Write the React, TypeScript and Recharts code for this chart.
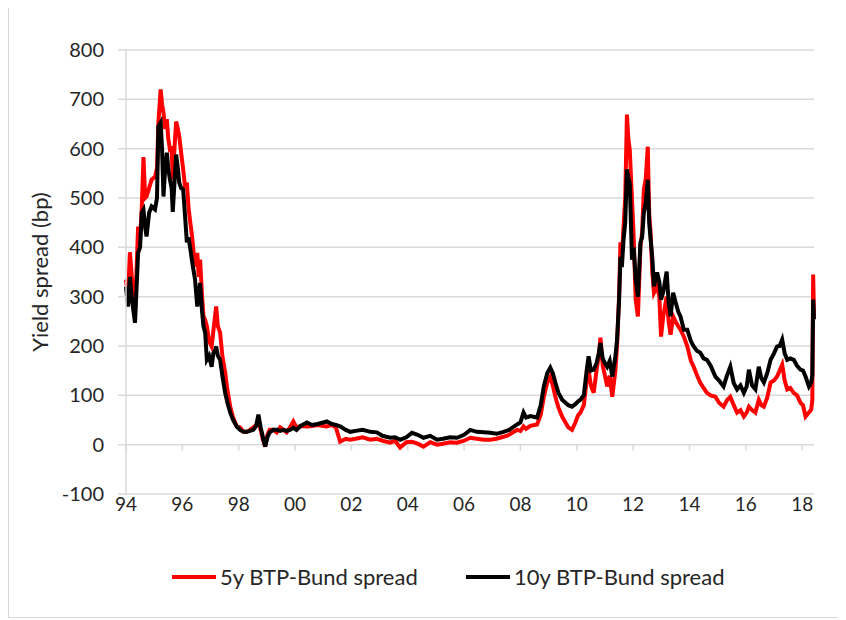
import {
    CartesianGrid,
    Legend,
    Line,
    LineChart,
    ReferenceLine,
    XAxis,
    YAxis,
} from "recharts";

// decimal year of each observation
const dates = [
    1994.0, 1994.07, 1994.14, 1994.22, 1994.32, 1994.43, 1994.5, 1994.56, 1994.62, 1994.68,
    1994.73, 1994.82, 1994.91, 1995.03, 1995.1, 1995.15, 1995.23, 1995.28, 1995.33, 1995.39,
    1995.45, 1995.5, 1995.56, 1995.62, 1995.66, 1995.72, 1995.78, 1995.84, 1995.89, 1995.96,
    1996.03, 1996.1, 1996.16, 1996.22, 1996.27, 1996.35, 1996.45, 1996.53, 1996.58, 1996.63,
    1996.7, 1996.75, 1996.81, 1996.87, 1996.95, 1997.04, 1997.1, 1997.16, 1997.2, 1997.26,
    1997.34, 1997.42, 1997.52, 1997.6, 1997.7, 1997.8, 1997.93, 1998.05, 1998.17, 1998.29,
    1998.4, 1998.52, 1998.62, 1998.7, 1998.78, 1998.86, 1998.94, 1999.02, 1999.1, 1999.23,
    1999.35, 1999.47, 1999.59, 1999.7, 1999.82, 1999.94, 2000.05, 2000.2, 2000.42, 2000.6,
    2000.8, 2001.0, 2001.13, 2001.3, 2001.45, 2001.6, 2001.8, 2001.96, 2002.15, 2002.4,
    2002.67, 2002.9, 2003.1, 2003.38, 2003.55, 2003.73, 2003.95, 2004.15, 2004.35, 2004.56,
    2004.8, 2005.04, 2005.25, 2005.5, 2005.75, 2006.0, 2006.22, 2006.45, 2006.7, 2006.93,
    2007.15, 2007.4, 2007.6, 2007.88, 2008.0, 2008.11, 2008.2, 2008.35, 2008.59, 2008.72,
    2008.83, 2008.95, 2009.06, 2009.15, 2009.24, 2009.35, 2009.48, 2009.6, 2009.7, 2009.83,
    2009.95, 2010.05, 2010.13, 2010.25, 2010.35, 2010.42, 2010.5, 2010.6, 2010.7, 2010.78,
    2010.84, 2010.92, 2011.0, 2011.08, 2011.17, 2011.26, 2011.37, 2011.43, 2011.5, 2011.55,
    2011.6, 2011.66, 2011.72, 2011.78, 2011.83, 2011.88, 2011.96, 2012.02, 2012.09, 2012.17,
    2012.26, 2012.32, 2012.38, 2012.45, 2012.52, 2012.57, 2012.62, 2012.68, 2012.74, 2012.85,
    2012.93, 2012.99, 2013.07, 2013.19, 2013.26, 2013.33, 2013.42, 2013.5, 2013.6, 2013.68,
    2013.8, 2013.92, 2014.05, 2014.15, 2014.27, 2014.38, 2014.5, 2014.62, 2014.75, 2014.92,
    2015.05, 2015.21, 2015.33, 2015.45, 2015.57, 2015.69, 2015.81, 2015.93, 2016.03, 2016.11,
    2016.22, 2016.34, 2016.46, 2016.55, 2016.64, 2016.76, 2016.88, 2017.0, 2017.11, 2017.2,
    2017.29, 2017.38, 2017.47, 2017.58, 2017.7, 2017.82, 2017.94, 2018.03, 2018.12, 2018.24,
    2018.32, 2018.36, 2018.39, 2018.42,
];

// 5y BTP-Bund spread (bp)
const spread5y = [
    335, 300, 390, 330, 268, 442, 420, 480, 583, 500,
    503, 520, 537, 543, 560, 653, 720, 690, 673, 640,
    660, 620, 598, 600, 537, 600, 655, 640, 625, 590,
    558, 520, 531, 480, 456, 420, 361, 389, 340, 375,
    300, 260, 253, 240, 210, 199, 230, 260, 280, 240,
    227, 180, 146, 110, 77, 55, 37, 35, 26, 26,
    30, 35, 40, 45, 30, 10, -4, 20, 30, 30,
    25, 35, 30, 25, 35, 47, 35, 38, 37, 38,
    40, 38, 37, 40, 35, 6, 12, 10, 12, 15,
    10, 12, 8, 4, 8, -6, 5, 6, 2, -4,
    5, 0, 2, 5, 4, 8, 14, 12, 10, 10,
    12, 16, 20, 30, 28, 37, 32, 38, 41, 60,
    97, 125, 138, 120, 97, 75, 57, 45, 35, 30,
    45, 60, 65, 80, 130, 152, 120, 105, 150, 180,
    217, 160, 140, 118, 140, 97, 150, 200, 300, 410,
    380, 442, 500, 669, 620, 598, 497, 420, 294, 260,
    402, 430, 517, 540, 604, 470, 430, 350, 308, 321,
    300, 219, 260, 300, 250, 223, 260, 250, 240, 233,
    219, 200, 170, 158, 140, 126, 115, 105, 100, 97,
    85, 77, 90, 97, 80, 65, 70, 57, 65, 77,
    70, 65, 91, 80, 77, 95, 126, 130, 138, 150,
    162, 130, 112, 115, 105, 100, 85, 80, 57, 65,
    71, 90, 345, 260,
];

// 10y BTP-Bund spread (bp)
const spread10y = [
    320, 280, 340, 290, 247, 389, 400, 470, 476, 440,
    422, 470, 483, 477, 500, 645, 653, 600, 503, 560,
    592, 560, 537, 520, 472, 530, 588, 560, 531, 520,
    517, 460, 410, 420, 402, 370, 335, 280, 300, 328,
    270, 240, 227, 172, 180, 158, 185, 190, 199, 180,
    172, 140, 105, 85, 65, 50, 37, 30, 26, 26,
    28, 30, 38, 61, 35, 15, -4, 15, 25, 30,
    30, 28, 30, 28, 30, 34, 30, 38, 45, 40,
    42, 45, 47, 42, 40, 37, 30, 26, 28, 30,
    26, 25, 18, 14, 15, 10, 15, 24, 20, 14,
    18, 10, 12, 15, 14, 20, 30, 26, 25, 24,
    22, 26, 30, 41, 45, 65, 55, 58, 55, 80,
    118, 145, 156, 145, 126, 105, 91, 85, 80, 77,
    82, 88, 91, 100, 150, 179, 150, 152, 165, 185,
    206, 175, 165, 158, 170, 138, 179, 213, 290, 381,
    360, 416, 450, 558, 540, 531, 375, 400, 335, 300,
    410, 420, 470, 490, 537, 450, 416, 380, 321, 349,
    330, 294, 310, 351, 290, 260, 308, 290, 270, 260,
    233, 233, 210, 199, 190, 187, 175, 172, 160, 138,
    130, 118, 140, 158, 125, 112, 120, 105, 118, 152,
    120, 112, 158, 135, 126, 145, 172, 185, 199, 200,
    213, 185, 172, 175, 172, 160, 152, 150, 138, 118,
    126, 140, 294, 254,
];

const yearTicks = [1994, 1996, 1998, 2000, 2002, 2004, 2006, 2008, 2010, 2012, 2014, 2016, 2018];
const spreadTicks = [-100, 0, 100, 200, 300, 400, 500, 600, 700, 800];

const seriesNames = ["5y BTP-Bund spread", "10y BTP-Bund spread"];
const seriesColors = ["#ff0000", "#000000"];

const chartData = dates.map((d, i) => ({
    date: d,
    y5: spread5y[i],
    y10: spread10y[i],
}));

const FONT = "Lato, 'Open Sans', sans-serif";
const TEXT = "#262626";
const GRID = "#d9d9d9";

const SpreadLegend = () => (
    <div style={{ display: "flex", fontFamily: FONT, fontSize: 22, color: TEXT, paddingLeft: 163 }}>
        {seriesNames.map((name, i) => (
            <div key={name} style={{ display: "flex", alignItems: "center", width: i === 0 ? 294 : "auto" }}>
                <span style={{ display: "inline-block", width: 44, height: 4, background: seriesColors[i], marginRight: 4 }} />
                <span>{name}</span>
            </div>
        ))}
    </div>
);

export default function App() {
    return (
        <div style={{ width: 829, height: 609, borderLeft: `1px solid ${GRID}`, borderBottom: `1px solid ${GRID}` }}>
            <LineChart
                width={829}
                height={609}
                data={chartData}
                margin={{ top: 42, right: 24, left: 0, bottom: 19 }}
            >
                <CartesianGrid vertical={false} stroke={GRID} strokeWidth={1.5} />
                <XAxis
                    dataKey="date"
                    type="number"
                    domain={[1994, 2018.42]}
                    ticks={yearTicks}
                    tickFormatter={(v: number) => String(v).slice(2)}
                    axisLine={false}
                    tickLine={false}
                    tickSize={4}
                    tickMargin={0}
                    height={69}
                    interval={0}
                    tick={{ fill: TEXT, fontSize: 19, fontFamily: FONT }}
                />
                <YAxis
                    domain={[-100, 800]}
                    ticks={spreadTicks}
                    interval={0}
                    width={117}
                    axisLine={{ stroke: GRID, strokeWidth: 1.5 }}
                    tickLine={{ stroke: GRID, strokeWidth: 1.5 }}
                    tickSize={8}
                    tickMargin={14}
                    tick={{ fill: TEXT, fontSize: 20, fontFamily: FONT }}
                    label={{
                        value: "Yield spread (bp)",
                        angle: -90,
                        position: "insideLeft",
                        offset: 31,
                        style: { textAnchor: "middle", fill: TEXT, fontSize: 22, fontFamily: FONT },
                    }}
                />
                {yearTicks.map((t) => (
                    <ReferenceLine
                        key={t}
                        segment={[{ x: t, y: 0 }, { x: t, y: -12 }]}
                        stroke={GRID}
                        strokeWidth={1.5}
                    />
                ))}
                <Legend verticalAlign="bottom" align="left" height={35} content={<SpreadLegend />} />
                <Line
                    type="linear"
                    dataKey="y5"
                    name={seriesNames[0]}
                    stroke={seriesColors[0]}
                    strokeWidth={4}
                    dot={false}
                    isAnimationActive={false}
                />
                <Line
                    type="linear"
                    dataKey="y10"
                    name={seriesNames[1]}
                    stroke={seriesColors[1]}
                    strokeWidth={4}
                    dot={false}
                    isAnimationActive={false}
                />
            </LineChart>
        </div>
    );
}
